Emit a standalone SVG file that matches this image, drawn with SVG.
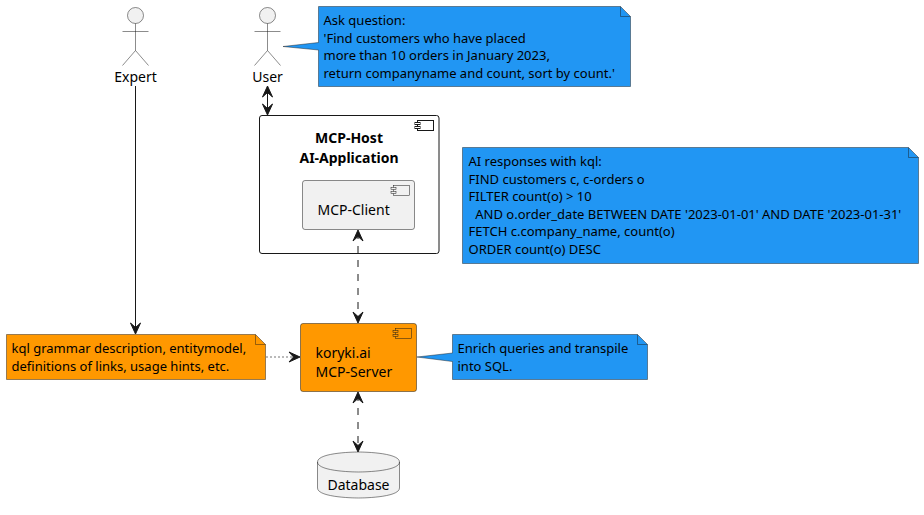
<svg xmlns="http://www.w3.org/2000/svg" width="924" height="515" viewBox="0 0 924 515">
<style>
text{font-family:"Noto Sans",sans-serif;font-size:14px;fill:#000}
.n{font-size:13px}
.b{font-weight:700;text-anchor:middle}
.m{text-anchor:middle}
.act{fill:#F1F1F1;stroke:#181818;stroke-width:.5}
.note{stroke:#181818;stroke-width:.5;stroke-opacity:.9}
.blue{fill:#2196F3}
.orange{fill:#FF9800}
.fold{fill:none}
.line{fill:none;stroke:#181818;stroke-width:1}
.dash{stroke-dasharray:7 7}
.dot{stroke-dasharray:2 2;stroke-width:.6}
.ah{fill:#181818;stroke:#181818;stroke-width:1;stroke-linejoin:miter}
</style>
<rect width="924" height="515" fill="#fff"/>
<g id="expert">
<circle class="act" cx="135.500" cy="15.500" r="8"/>
<path class="act" d="M135.500 23.500V50.500M122.500 31.500H148.500M135.500 50.500L122.500 65.500M135.500 50.500L148.500 65.500" fill="none"/>
<text class="m" x="135.500" y="82">Expert</text>
</g>
<g id="user">
<circle class="act" cx="267.500" cy="15.500" r="8"/>
<path class="act" d="M267.500 23.500V50.500M254.500 31.500H280.500M267.500 50.500L254.500 65.500M267.500 50.500L280.500 65.500" fill="none"/>
<text class="m" x="267.500" y="82">User</text>
</g>
<g id="note-question">
<path class="note blue" d="M318.500 6.500H620.500L630.500 16.500V86.500H318.500V50L283 46.500L318.500 42.500Z"/>
<path class="note fold" d="M620.500 6.500V16.500H630.500"/>
<text class="n" x="323.500" y="25">Ask question:</text>
<text class="n" x="323.500" y="43">'Find customers who have placed</text>
<text class="n" x="323.500" y="60">more than 10 orders in January 2023,</text>
<text class="n" x="323.500" y="78">return companyname and count, sort by count.'</text>
</g>
<g id="mcp-host">
<rect x="259.500" y="115.500" width="179.500" height="138" rx="2.500" fill="#fff" stroke="#181818"/>
<rect x="417.500" y="120.500" width="16" height="10" fill="#fff" stroke="#181818"/>
<rect x="415" y="122.500" width="5" height="2" fill="#fff" stroke="#181818"/>
<rect x="415" y="126.500" width="5" height="2" fill="#fff" stroke="#181818"/>
<text class="b" x="349" y="143">MCP-Host</text>
<text class="b" x="349" y="163">AI-Application</text>
</g>
<g id="mcp-client">
<rect x="302.500" y="180.500" width="112" height="49" rx="2.500" fill="#F1F1F1" stroke="#181818" stroke-width=".5"/>
<rect x="393.500" y="185.500" width="16" height="10" fill="#F1F1F1" stroke="#181818" stroke-width=".5"/>
<rect x="391" y="187.500" width="5" height="2" fill="#F1F1F1" stroke="#181818" stroke-width=".5"/>
<rect x="391" y="191.500" width="5" height="2" fill="#F1F1F1" stroke="#181818" stroke-width=".5"/>
<text x="317.500" y="215">MCP-Client</text>
</g>
<g id="note-kql">
<path class="note blue" d="M462.500 147.500H908.500L918.500 157.500V263.500H462.500Z"/>
<path class="note fold" d="M908.500 147.500V157.500H918.500"/>
<text class="n" x="468.500" y="166">AI responses with kql:</text>
<text class="n" x="468.500" y="184">FIND customers c, c-orders o</text>
<text class="n" x="468.500" y="201">FILTER count(o) &gt; 10</text>
<text class="n" x="468.500" y="219" xml:space="preserve">  AND o.order_date BETWEEN DATE '2023-01-01' AND DATE '2023-01-31'</text>
<text class="n" x="468.500" y="236">FETCH c.company_name, count(o)</text>
<text class="n" x="468.500" y="254">ORDER count(o) DESC</text>
</g>
<g id="note-grammar">
<path class="note orange" d="M6.500 334.500H255.500L265.500 344.500V379.500H6.500Z"/>
<path class="note fold" d="M255.500 334.500V344.500H265.500"/>
<text class="n" x="11.500" y="353">kql grammar description, entitymodel,</text>
<text class="n" x="11.500" y="371">definitions of links, usage hints, etc.</text>
</g>
<g id="mcp-server">
<rect x="300.500" y="323.500" width="116" height="68" rx="2.500" fill="#FF9800" stroke="#181818" stroke-width=".5"/>
<rect x="395.500" y="328.500" width="16" height="10" fill="#FF9800" stroke="#181818" stroke-width=".5"/>
<rect x="393" y="330.500" width="5" height="2" fill="#FF9800" stroke="#181818" stroke-width=".5"/>
<rect x="393" y="334.500" width="5" height="2" fill="#FF9800" stroke="#181818" stroke-width=".5"/>
<text x="315.500" y="358">koryki.ai</text>
<text x="315.500" y="377">MCP-Server</text>
</g>
<g id="note-enrich">
<path class="note blue" d="M452.500 334.500H637.500L647.500 344.500V379.500H452.500V361.500L417 357L452.500 353Z"/>
<path class="note fold" d="M637.500 334.500V344.500H647.500"/>
<text class="n" x="457.500" y="353">Enrich queries and transpile</text>
<text class="n" x="457.500" y="371">into SQL.</text>
</g>
<g id="database">
<path d="M317.500 462C317.500 452 358.500 452 358.500 452C358.500 452 399.500 452 399.500 462V488C399.500 498 358.500 498 358.500 498C358.500 498 317.500 498 317.500 488Z" fill="#F1F1F1" stroke="#181818" stroke-width=".5"/>
<path d="M317.500 462C317.500 472 358.500 472 358.500 472C358.500 472 399.500 472 399.500 462" fill="none" stroke="#181818" stroke-width=".5"/>
<text class="m" x="358.500" y="490">Database</text>
</g>
<g id="connectors">
<path class="line" d="M135.500 86V330"/>
<path class="ah" d="M135.500 334L130.500 323L135.500 327.500L140.500 323Z"/>
<path class="line" d="M267.500 88V113"/>
<path class="ah" d="M267.500 86L262.500 97L267.500 92.500L272.500 97ZM267.500 115L262.500 104L267.500 108.500L272.500 104Z"/>
<path class="line dash" d="M358 232V321"/>
<path class="ah" d="M358 230L353 241L358 236.500L363 241ZM358 323L353 312L358 316.500L363 312Z"/>
<path class="line dash" d="M358 394V450"/>
<path class="ah" d="M358 392L353 403L358 398.500L363 403ZM358 452L353 441L358 445.500L363 441Z"/>
<path class="line dot" d="M266 357H295"/>
<path class="ah" d="M300 357L289 352L293.500 357L289 362Z"/>
</g>
</svg>
